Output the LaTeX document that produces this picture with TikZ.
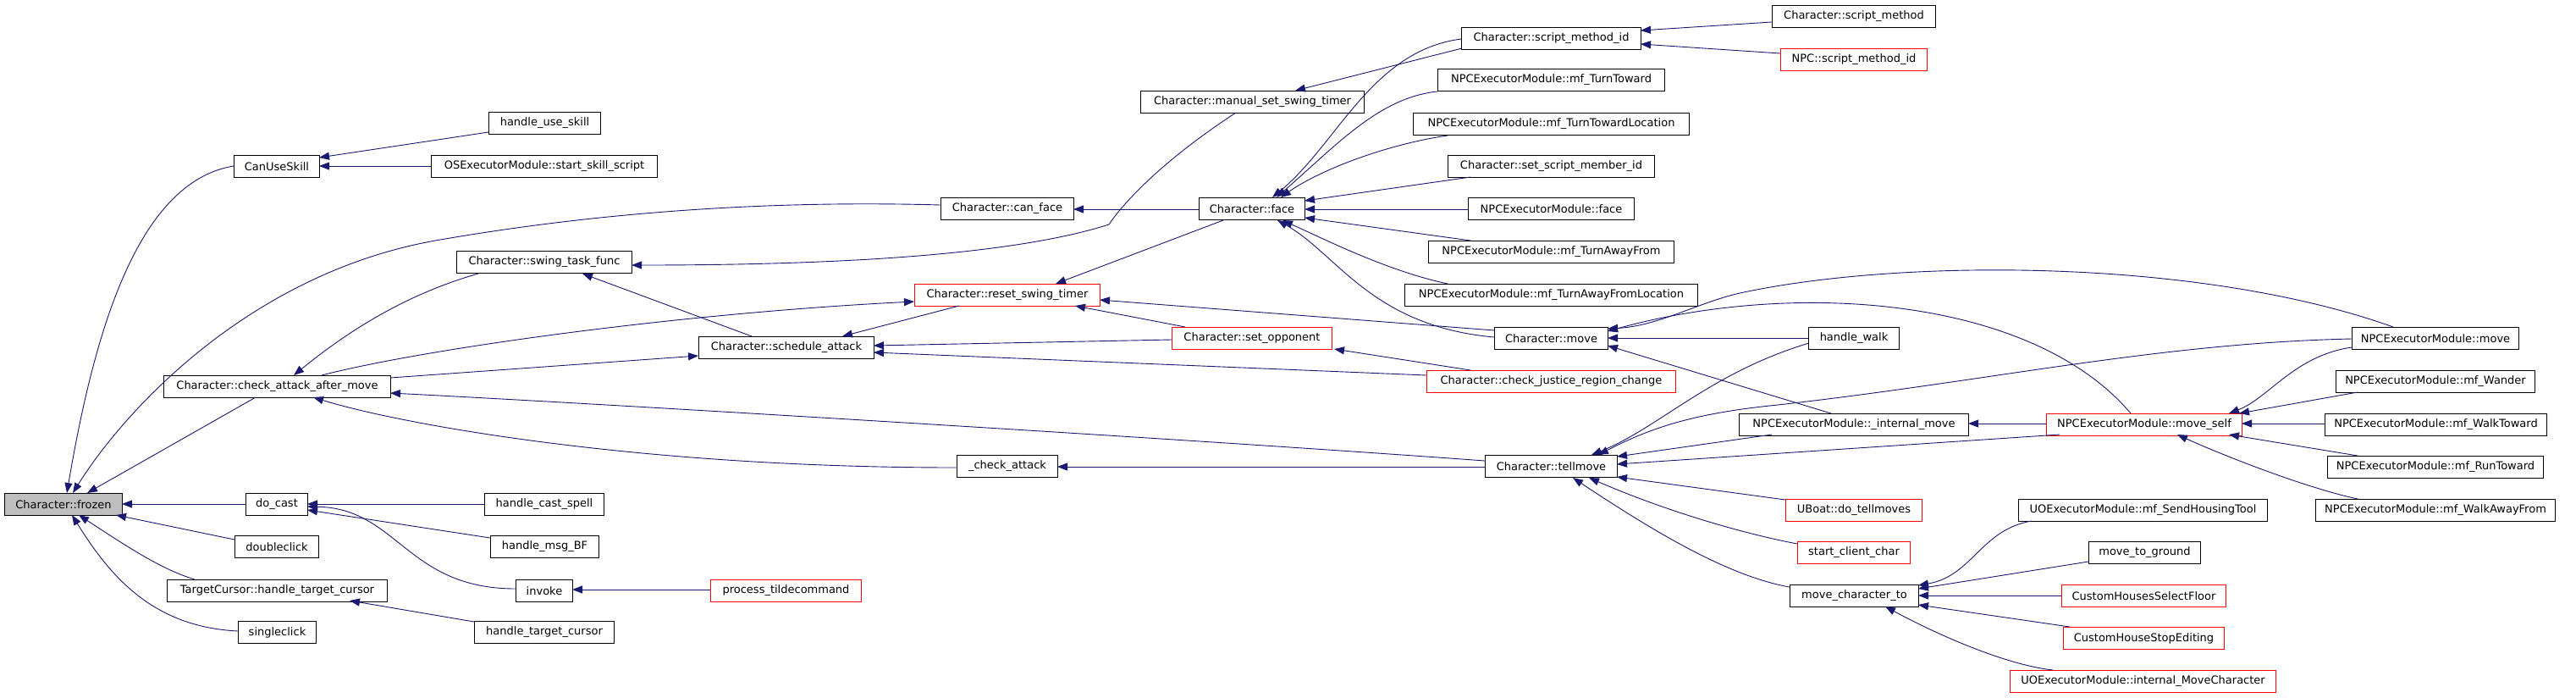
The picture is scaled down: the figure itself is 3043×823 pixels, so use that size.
\documentclass[tikz,border=0pt]{standalone}
\usepackage{fontspec}
\setmainfont{DejaVu Sans}
\usetikzlibrary{arrows.meta}
\definecolor{edgec}{RGB}{25,25,112}
\definecolor{grayc}{RGB}{191,191,191}
\definecolor{redc}{RGB}{255,0,0}
\begin{document}
\begin{tikzpicture}[x=1pt,y=-1pt,
  box/.style={draw=black,line width=1pt,inner sep=0pt,minimum height=26pt,anchor=north west,text=black,font=\fontsize{13}{15}\selectfont},
  redbox/.style={box,draw=redc},
  edge/.style={draw=edgec,line width=0.9pt,arrows={Triangle[length=12pt,width=9pt]-}}]
\useasboundingbox (0,0) rectangle (3043,823);
% nodes
\node[box,minimum width=139pt,fill=grayc] (frozen) at (5,582) {Character::frozen};
\node[box,minimum width=101pt] (cus) at (276,183) {CanUseSkill};
\node[box,minimum width=268pt] (caam) at (193,443) {Character::check\_attack\_after\_move};
\node[box,minimum width=73pt] (docast) at (290,582) {do\_cast};
\node[box,minimum width=99pt] (dblc) at (277,632) {doubleclick};
\node[box,minimum width=260pt] (tcht) at (197,684) {TargetCursor::handle\_target\_cursor};
\node[box,minimum width=92pt] (sglc) at (281,733) {singleclick};
\node[box,minimum width=132pt] (hus) at (577,132) {handle\_use\_skill};
\node[box,minimum width=267pt] (osss) at (509,183) {OSExecutorModule::start\_skill\_script};
\node[box,minimum width=157pt] (canface) at (1111,233) {Character::can\_face};
\node[box,minimum width=207pt] (stf) at (539,296) {Character::swing\_task\_func};
\node[box,minimum width=207pt] (sched) at (825,397) {Character::schedule\_attack};
\node[box,minimum width=141pt] (hcs) at (572,582) {handle\_cast\_spell};
\node[box,minimum width=128pt] (hmbf) at (579,632) {handle\_msg\_BF};
\node[box,minimum width=67pt] (invoke) at (609,684) {invoke};
\node[box,minimum width=165pt] (htc) at (560,733) {handle\_target\_cursor};
\node[box,minimum width=264pt] (msst) at (1347,107) {Character::manual\_set\_swing\_timer};
\node[box,minimum width=125pt] (face) at (1416,233) {Character::face};
\node[redbox,minimum width=219pt] (rst) at (1080,335) {Character::reset\_swing\_timer};
\node[redbox,minimum width=189pt] (setopp) at (1384,386) {Character::set\_opponent};
\node[box,minimum width=119pt] (chka) at (1130,537) {\_check\_attack};
\node[redbox,minimum width=178pt] (ptc) at (839,684) {process\_tildecommand};
\node[box,minimum width=212pt] (smid) at (1726,32) {Character::script\_method\_id};
\node[box,minimum width=268pt] (mftt) at (1698,81) {NPCExecutorModule::mf\_TurnToward};
\node[box,minimum width=326pt] (mfttl) at (1669,133) {NPCExecutorModule::mf\_TurnTowardLocation};
\node[box,minimum width=244pt] (ssmid) at (1710,183) {Character::set\_script\_member\_id};
\node[box,minimum width=196pt] (npcface) at (1734,233) {NPCExecutorModule::face};
\node[box,minimum width=290pt] (mftaf) at (1687,284) {NPCExecutorModule::mf\_TurnAwayFrom};
\node[box,minimum width=346pt] (mftafl) at (1659,335) {NPCExecutorModule::mf\_TurnAwayFromLocation};
\node[box,minimum width=134pt] (cmove) at (1765,386) {Character::move};
\node[redbox,minimum width=294pt] (cjrc) at (1685,437) {Character::check\_justice\_region\_change};
\node[box,minimum width=156pt] (tell) at (1754,537) {Character::tellmove};
\node[box,minimum width=193pt] (sm) at (2093,6) {Character::script\_method};
\node[redbox,minimum width=173pt] (npcsmid) at (2103,57) {NPC::script\_method\_id};
\node[box,minimum width=107pt] (hwalk) at (2136,386) {handle\_walk};
\node[box,minimum width=271pt] (imove) at (2054,488) {NPCExecutorModule::\_internal\_move};
\node[redbox,minimum width=231pt] (mself) at (2417,488) {NPCExecutorModule::move\_self};
\node[redbox,minimum width=161pt] (uboat) at (2109,589) {UBoat::do\_tellmoves};
\node[redbox,minimum width=133pt] (scc) at (2123,639) {start\_client\_char};
\node[box,minimum width=152pt] (mct) at (2114,690) {move\_character\_to};
\node[box,minimum width=294pt] (sht) at (2384,589) {UOExecutorModule::mf\_SendHousingTool};
\node[box,minimum width=132pt] (mtg) at (2467,639) {move\_to\_ground};
\node[redbox,minimum width=194pt] (chsf) at (2435,690) {CustomHousesSelectFloor};
\node[redbox,minimum width=190pt] (chse) at (2437,740) {CustomHouseStopEditing};
\node[redbox,minimum width=314pt] (imc) at (2374,791) {UOExecutorModule::internal\_MoveCharacter};
\node[box,minimum width=197pt] (npcmove) at (2778,386) {NPCExecutorModule::move};
\node[box,minimum width=235pt] (wander) at (2759,437) {NPCExecutorModule::mf\_Wander};
\node[box,minimum width=262pt] (walkt) at (2746,488) {NPCExecutorModule::mf\_WalkToward};
\node[box,minimum width=255pt] (runt) at (2749,538) {NPCExecutorModule::mf\_RunToward};
\node[box,minimum width=283pt] (walkaf) at (2735,589) {NPCExecutorModule::mf\_WalkAwayFrom};
% edges (arrow at callee)
\draw[edge] ([shift={(74,0)}]frozen.north west) .. controls (110,400) and (160,215) .. ([shift={(0,13)}]cus.north west);
\draw[edge] ([shift={(81,0)}]frozen.north west) .. controls (150,480) and (300,320) .. (520,283) .. controls (700,252) and (900,236) .. ([shift={(0,9)}]canface.north west);
\draw[edge] ([shift={(98,0)}]frozen.north west) -- ([shift={(109,26)}]caam.north west);
\draw[edge] ([shift={(139,13)}]frozen.north west) -- ([shift={(0,13)}]docast.north west);
\draw[edge] ([shift={(132,26)}]frozen.north west) -- ([shift={(0,5)}]dblc.north west);
\draw[edge] ([shift={(88,26)}]frozen.north west) .. controls (150,645) and (190,672) .. ([shift={(33,0)}]tcht.north west);
\draw[edge] ([shift={(80,26)}]frozen.north west) .. controls (130,680) and (180,740) .. ([shift={(0,12)}]sglc.north west);
\draw[edge] ([shift={(101,3)}]cus.north west) -- ([shift={(0,24)}]hus.north west);
\draw[edge] ([shift={(101,13)}]cus.north west) -- ([shift={(0,13)}]osss.north west);
\draw[edge] ([shift={(154,0)}]caam.north west) .. controls (400,400) and (470,350) .. ([shift={(26,27)}]stf.north west);
\draw[edge] ([shift={(0,21)}]rst.north west) .. controls (800,370) and (500,412) .. ([shift={(187,0)}]caam.north west);
\draw[edge] ([shift={(0,23)}]sched.north west) -- ([shift={(268,3)}]caam.north west);
\draw[edge] ([shift={(268,21)}]caam.north west) .. controls (700,476) and (1400,518) .. ([shift={(0,7)}]tell.north west);
\draw[edge] ([shift={(177,26)}]caam.north west) .. controls (470,500) and (750,552) .. ([shift={(0,15)}]chka.north west);
\draw[edge] ([shift={(119,14)}]chka.north west) -- ([shift={(0,14)}]tell.north west);
\draw[edge] ([shift={(73,13)}]docast.north west) -- ([shift={(0,13)}]hcs.north west);
\draw[edge] ([shift={(73,20)}]docast.north west) -- ([shift={(0,3)}]hmbf.north west);
\draw[edge] ([shift={(73,16)}]docast.north west) .. controls (470,600) and (480,695) .. ([shift={(0,11)}]invoke.north west);
\draw[edge] ([shift={(216,25)}]tcht.north west) -- ([shift={(0,1)}]htc.north west);
\draw[edge] ([shift={(67,12)}]invoke.north west) -- ([shift={(0,12)}]ptc.north west);
\draw[edge] ([shift={(207,17)}]stf.north west) .. controls (1000,313) and (1200,300) .. (1310,265) .. controls (1330,235) and (1380,185) .. ([shift={(113,26)}]msst.north west);
\draw[edge] ([shift={(149,27)}]stf.north west) -- ([shift={(63,0)}]sched.north west);
\draw[edge] ([shift={(170,0)}]sched.north west) -- ([shift={(53,26)}]rst.north west);
\draw[edge] ([shift={(207,11)}]sched.north west) -- ([shift={(0,15)}]setopp.north west);
\draw[edge] ([shift={(207,19)}]sched.north west) -- ([shift={(0,6)}]cjrc.north west);
\draw[edge] ([shift={(157,14)}]canface.north west) -- ([shift={(0,14)}]face.north west);
\draw[edge] ([shift={(167,0)}]rst.north west) -- ([shift={(29,27)}]face.north west);
\draw[edge] ([shift={(219,19)}]rst.north west) -- ([shift={(0,4)}]cmove.north west);
\draw[edge] ([shift={(190,26)}]rst.north west) -- ([shift={(16,0)}]setopp.north west);
\draw[edge] ([shift={(192,26)}]setopp.north west) -- ([shift={(52,0)}]cjrc.north west);
\draw[edge] ([shift={(87,0)}]face.north west) .. controls (1580,170) and (1620,60) .. ([shift={(0,14)}]smid.north west);
\draw[edge] ([shift={(183,0)}]msst.north west) -- ([shift={(1,25)}]smid.north west);
\draw[edge] ([shift={(92,0)}]face.north west) .. controls (1580,170) and (1630,115) .. ([shift={(0,27)}]mftt.north west);
\draw[edge] ([shift={(97,0)}]face.north west) .. controls (1560,200) and (1640,170) .. ([shift={(41,27)}]mfttl.north west);
\draw[edge] ([shift={(125,4)}]face.north west) -- ([shift={(27,26)}]ssmid.north west);
\draw[edge] ([shift={(125,14)}]face.north west) -- ([shift={(0,14)}]npcface.north west);
\draw[edge] ([shift={(125,24)}]face.north west) -- ([shift={(50,0)}]mftaf.north west);
\draw[edge] ([shift={(99,27)}]face.north west) .. controls (1570,285) and (1640,320) .. ([shift={(51,0)}]mftafl.north west);
\draw[edge] ([shift={(93,27)}]face.north west) .. controls (1580,300) and (1620,385) .. ([shift={(0,12)}]cmove.north west);
\draw[edge] ([shift={(212,4)}]smid.north west) -- ([shift={(0,20)}]sm.north west);
\draw[edge] ([shift={(212,20)}]smid.north west) -- ([shift={(0,6)}]npcsmid.north west);
\draw[edge] ([shift={(134,2)}]cmove.north west) .. controls (1960,385) and (2010,355) .. (2060,345) .. controls (2250,305) and (2600,305) .. ([shift={(49,0)}]npcmove.north west);
\draw[edge] ([shift={(134,5)}]cmove.north west) .. controls (2120,330) and (2400,350) .. ([shift={(100,0)}]mself.north west);
\draw[edge] ([shift={(134,13)}]cmove.north west) -- ([shift={(0,13)}]hwalk.north west);
\draw[edge] ([shift={(134,22)}]cmove.north west) -- ([shift={(109,0)}]imove.north west);
\draw[edge] ([shift={(126,0)}]tell.north west) .. controls (1960,505) and (2020,440) .. ([shift={(1,19)}]hwalk.north west);
\draw[edge] ([shift={(134,0)}]tell.north west) .. controls (1950,505) and (2000,488) .. (2100,478) .. controls (2350,450) and (2550,405) .. ([shift={(0,14)}]npcmove.north west);
\draw[edge] ([shift={(156,2)}]tell.north west) -- ([shift={(39,25)}]imove.north west);
\draw[edge] ([shift={(156,11)}]tell.north west) -- ([shift={(16,25)}]mself.north west);
\draw[edge] ([shift={(156,26)}]tell.north west) -- ([shift={(0,1)}]uboat.north west);
\draw[edge] ([shift={(123,27)}]tell.north west) .. controls (1960,600) and (2050,628) .. ([shift={(0,3)}]scc.north west);
\draw[edge] ([shift={(104,27)}]tell.north west) .. controls (1950,625) and (2040,680) .. ([shift={(0,3)}]mct.north west);
\draw[edge] ([shift={(271,12)}]imove.north west) -- ([shift={(0,12)}]mself.north west);
\draw[edge] ([shift={(216,0)}]mself.north west) .. controls (2680,470) and (2710,420) .. ([shift={(0,24)}]npcmove.north west);
\draw[edge] ([shift={(228,0)}]mself.north west) -- ([shift={(26,26)}]wander.north west);
\draw[edge] ([shift={(231,12)}]mself.north west) -- ([shift={(0,12)}]walkt.north west);
\draw[edge] ([shift={(216,25)}]mself.north west) -- ([shift={(36,0)}]runt.north west);
\draw[edge] ([shift={(155,25)}]mself.north west) .. controls (2620,535) and (2720,575) .. ([shift={(50,0)}]walkaf.north west);
\draw[edge] ([shift={(152,1)}]mct.north west) .. controls (2330,680) and (2340,625) .. ([shift={(16,26)}]sht.north west);
\draw[edge] ([shift={(152,5)}]mct.north west) -- ([shift={(0,24)}]mtg.north west);
\draw[edge] ([shift={(152,13)}]mct.north west) -- ([shift={(0,13)}]chsf.north west);
\draw[edge] ([shift={(152,24)}]mct.north west) -- ([shift={(8,0)}]chse.north west);
\draw[edge] ([shift={(113,26)}]mct.north west) .. controls (2290,750) and (2370,785) .. ([shift={(51,0)}]imc.north west);
\end{tikzpicture}
\end{document}
